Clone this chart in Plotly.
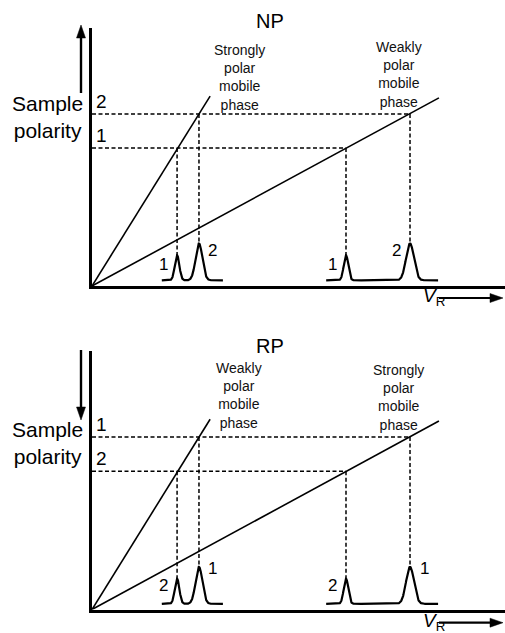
import numpy as np
import plotly.graph_objects as go

W, H = 505, 633
FONT = "Liberation Sans, Arial, Helvetica, sans-serif"

# ---------------- data (arbitrary units: x = retention volume V_R, y = sample polarity)
levels = [5.35, 6.67]                 # polarity of the two compounds (lower, higher)
retention_steep = [2.06, 2.59]        # retention volumes read on the steep line
retention_shallow = [6.15, 7.70]      # retention volumes read on the shallow line
steep_end = [2.86, 7.36]              # end point of steep line (x, y)
shallow_end = [8.40, 7.29]            # end point of shallow line (x, y)
peak_heights = [0.97, 1.43]           # peak heights above baseline
sigma_steep = [0.055, 0.082]
sigma_shallow = [0.055, 0.095]
baseline = 0.22
chrom_steep_range = [1.69, 3.17]
chrom_shallow_range = [5.67, 8.38]

panels = [
    dict(title="NP", level_labels=["1", "2"], peak_labels=["1", "2"],
         steep_text="Strongly<br>polar<br>mobile<br>phase",
         shallow_text="Weakly<br>polar<br>mobile<br>phase",
         arrow="up"),
    dict(title="RP", level_labels=["2", "1"], peak_labels=["2", "1"],
         steep_text="Weakly<br>polar<br>mobile<br>phase",
         shallow_text="Strongly<br>polar<br>mobile<br>phase",
         arrow="down"),
]

# layout geometry (pixels)
x_left_px = 92
panel_px = [(28, 286), (351, 609.5)]   # (top, bottom) of y domain per panel


def px(xp):
    return xp / W


def py(yp):
    return 1 - yp / H


fig = go.Figure()
annotations = []
shapes = []

black = "black"
dash_style = dict(color=black, width=1.5, dash="4px,2.5px")
for k, p in enumerate(panels):
    sfx = "" if k == 0 else "2"
    xr, yr = "x" + sfx, "y" + sfx

    # main lines
    fig.add_trace(go.Scatter(x=[0, steep_end[0]], y=[0, steep_end[1]], mode="lines",
                             line=dict(color=black, width=1.6), xaxis=xr, yaxis=yr,
                             showlegend=False, hoverinfo="skip"))
    fig.add_trace(go.Scatter(x=[0, shallow_end[0]], y=[0, shallow_end[1]], mode="lines",
                             line=dict(color=black, width=1.6), xaxis=xr, yaxis=yr,
                             showlegend=False, hoverinfo="skip"))
    # dashed lines
    for i in range(2):
        fig.add_trace(go.Scatter(x=[0, retention_shallow[i]], y=[levels[i], levels[i]],
                                 mode="lines", line=dash_style,
                                 xaxis=xr, yaxis=yr, showlegend=False, hoverinfo="skip"))
        for rv in (retention_steep[i], retention_shallow[i]):
            fig.add_trace(go.Scatter(x=[rv, rv], y=[levels[i], baseline + peak_heights[i]],
                                     mode="lines", line=dash_style,
                                     xaxis=xr, yaxis=yr, showlegend=False, hoverinfo="skip"))
    # chromatograms
    for rng, rets, sig in ((chrom_steep_range, retention_steep, sigma_steep),
                           (chrom_shallow_range, retention_shallow, sigma_shallow)):
        xs = np.linspace(rng[0], rng[1], 600)
        ys = np.full_like(xs, baseline)
        for i in range(2):
            ys = ys + peak_heights[i] * np.exp(-(xs - rets[i]) ** 2 / (2 * sig[i] ** 2))
        fig.add_trace(go.Scatter(x=xs, y=ys, mode="lines", line=dict(color=black, width=2.2),
                                 xaxis=xr, yaxis=yr, showlegend=False, hoverinfo="skip"))

    # level labels
    for i in range(2):
        annotations.append(dict(x=0, y=levels[i], xref=xr, yref=yr, text=p["level_labels"][i],
                                showarrow=False, xanchor="center", yanchor="middle",
                                xshift=9.5, yshift=12.5, font=dict(size=19, color=black, family=FONT)))
    # peak labels
    if k == 0:
        sides = [[-1, 1], [-1, -1]]
        dy = [-9, -7]
    else:
        sides = [[-1, 1], [-1, 1]]
        dy = [-7, -2]
    for j, rets in enumerate((retention_steep, retention_shallow)):
        for i in range(2):
            annotations.append(dict(x=rets[i], y=baseline + peak_heights[i], xref=xr, yref=yr,
                                    text=p["peak_labels"][i], showarrow=False,
                                    xanchor="center", yanchor="middle",
                                    xshift=14 * sides[j][i], yshift=dy[i],
                                    font=dict(size=17, color=black, family=FONT)))
    # mobile phase labels
    annotations.append(dict(x=steep_end[0], y=steep_end[1], xref=xr, yref=yr, text=p["steep_text"],
                            showarrow=False, xanchor="center", yanchor="middle",
                            xshift=29, yshift=19 if k == 0 else 24,
                            font=dict(size=14, color="#111", family=FONT)))
    annotations.append(dict(x=shallow_end[0], y=shallow_end[1], xref=xr, yref=yr, text=p["shallow_text"],
                            showarrow=False, xanchor="center", yanchor="middle",
                            xshift=-40, yshift=23.5,
                            font=dict(size=14, color="#111", family=FONT)))
    # title
    title_y = 21 if k == 0 else 346
    annotations.append(dict(x=px(270), y=py(title_y), xref="paper", yref="paper", text=p["title"],
                            showarrow=False, xanchor="center", yanchor="middle",
                            font=dict(size=20, color=black, family=FONT)))
    # Sample polarity
    sp_y = 117 if k == 0 else 443
    annotations.append(dict(x=px(47), y=py(sp_y), xref="paper", yref="paper",
                            text="Sample<br>polarity", showarrow=False, xanchor="center",
                            yanchor="middle", font=dict(size=21, color=black, family=FONT)))
    # V_R label
    vr_y = 296.5 if k == 0 else 621.5
    annotations.append(dict(x=px(421), y=py(vr_y), xref="paper", yref="paper",
                            text="<i>V</i><sub>R</sub>", showarrow=False, xanchor="left",
                            yanchor="middle", font=dict(size=19, color=black, family=FONT)))

    # vertical polarity arrow
    ax_x = 81
    if p["arrow"] == "up":
        tail, tip, base = 93, 25, 38
    else:
        tail, tip, base = 350, 420, 407
    shapes.append(dict(type="line", xref="paper", yref="paper", x0=px(ax_x), x1=px(ax_x),
                       y0=py(tail), y1=py(base), line=dict(color=black, width=2.4)))
    shapes.append(dict(type="path", xref="paper", yref="paper",
                       path=f"M {px(ax_x - 4.5)},{py(base)} L {px(ax_x + 4.5)},{py(base)} L {px(ax_x)},{py(tip)} Z",
                       fillcolor=black, line=dict(color=black, width=0.5)))
    # V_R arrow
    ay = 298 if k == 0 else 622.7
    shapes.append(dict(type="line", xref="paper", yref="paper", x0=px(439), x1=px(491),
                       y0=py(ay), y1=py(ay), line=dict(color=black, width=2.2)))
    shapes.append(dict(type="path", xref="paper", yref="paper",
                       path=f"M {px(490)},{py(ay - 4.5)} L {px(490)},{py(ay + 4.5)} L {px(503)},{py(ay)} Z",
                       fillcolor=black, line=dict(color=black, width=0.5)))

axis_common = dict(range=[0, 10], showgrid=False, zeroline=False, showticklabels=False,
                   ticks="", showline=True, linecolor=black, linewidth=2.5, fixedrange=True)

fig.update_layout(
    width=W, height=H, margin=dict(l=0, r=0, t=0, b=0),
    paper_bgcolor="white", plot_bgcolor="white",
    xaxis=dict(domain=[px(x_left_px), 1], anchor="y", **axis_common),
    yaxis=dict(domain=[py(panel_px[0][1]), py(panel_px[0][0])], anchor="x", **axis_common),
    xaxis2=dict(domain=[px(x_left_px), 1], anchor="y2", **axis_common),
    yaxis2=dict(domain=[py(panel_px[1][1]), py(panel_px[1][0])], anchor="x2", **axis_common),
    annotations=annotations, shapes=shapes, showlegend=False,
)

fig.write_html("out.html", config={"displayModeBar": False},
               post_script="document.body.style.margin='0';document.body.style.overflow='hidden';")
